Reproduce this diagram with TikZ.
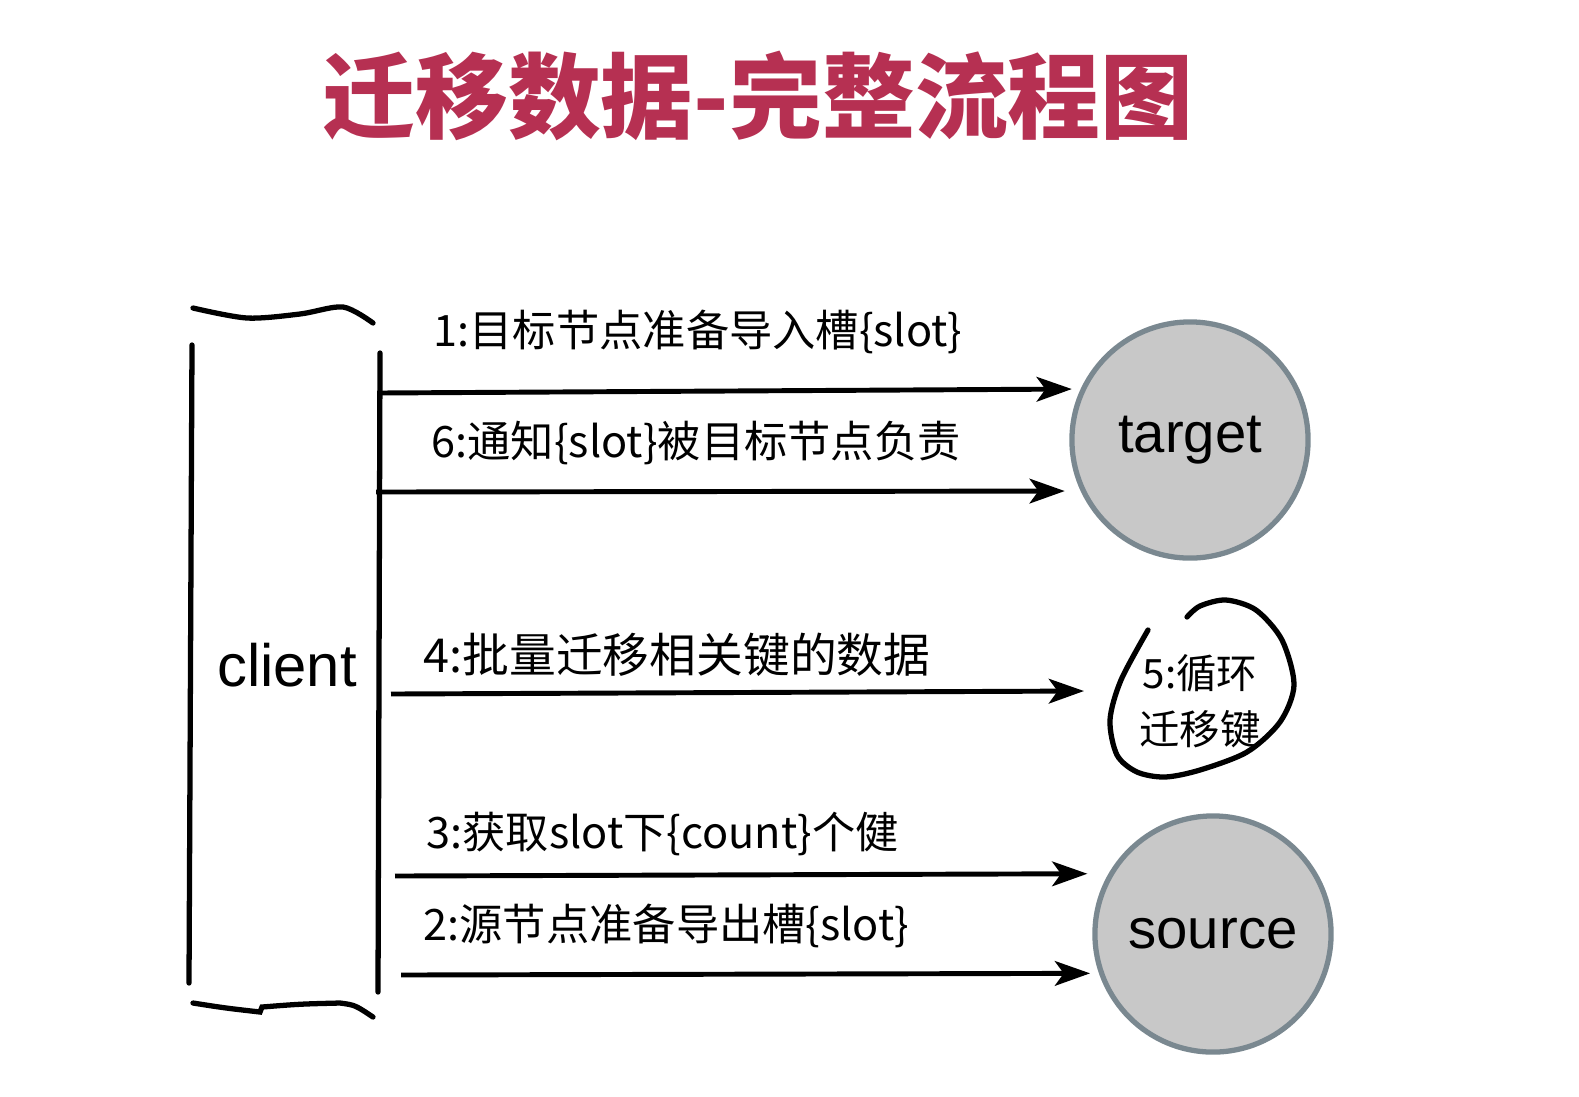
\documentclass[tikz,border=0pt]{standalone}
\usepackage{fontspec}
\setmainfont{Liberation Sans}
\newfontfamily\cjk{Noto Sans CJK SC}
\usepackage{xcolor}
\usetikzlibrary{calc, arrows.meta, positioning}
\definecolor{titlered}{RGB}{182,48,82}
\definecolor{servergray}{RGB}{200,200,200}
\definecolor{serverrim}{RGB}{122,136,144}

\begin{document}
\begin{tikzpicture}[x=0.01cm, y=-0.01cm, >={Stealth[length=10pt,width=7pt,inset=2.5pt]},
    server/.style={circle, draw=serverrim, fill=servergray, line width=1.5pt,
        minimum size=2.36cm, inner sep=0pt, font=\fontsize{16}{18}\selectfont},
    msg/.style={anchor=west, inner sep=0pt, font=\cjk\fontsize{12.3}{14}\selectfont},
    flow/.style={->, line width=1.4pt},
    pen/.style={line width=1.5pt, line cap=round}]
    \useasboundingbox (0,0) rectangle (1579,1096);

    % tiêu đề
    \node[font=\cjk\bfseries\fontsize{26.4}{30}\selectfont, text=titlered] (title) at (758,96) {迁移数据-完整流程图};

    % client
    \draw[pen] (192,345) -- (189,983);
    \draw[pen] (380,353) -- (378,992);
    \draw[pen] plot[smooth] coordinates {(193,308) (247,318) (300,314) (343,307) (373,323)};
    \draw[pen] (193,1003) .. controls (225,1008) .. (260,1012) -- (262,1007)
        .. controls (300,1004) .. (340,1003) .. controls (355,1005) .. (373,1017);
    \node[font=\fontsize{17}{20}\selectfont] (client) at (287,665) {client};

    % target, source
    \node[server] (target) at (1190,440) {target};
    \node[server] (source) at (1213,934) {source};

    \coordinate (c1) at (378,393);
    \coordinate (c6) at (376,492);
    \coordinate (c4) at (391,694);
    \coordinate (c3) at (395,876);
    \coordinate (c2) at (401,975);
    \coordinate (e4) at (1084,691);

    \draw[flow, shorten >=2.5pt] (c1) -- (target.155);
    \draw[flow, shorten >=4.5pt] (c6) -- (target.205);
    \draw[flow] (c4) -- (e4);
    \draw[flow, shorten >=6pt] (c3) -- (source.150);
    \draw[flow, shorten >=2.5pt] (c2) -- (source.199);

    \node[msg] (m1) at (433,332) {1:目标节点准备导入槽\{slot\}};
    \node[msg] (m6) at (431,443) {6:通知\{slot\}被目标节点负责};
    \node[msg, font=\cjk\fontsize{13.3}{15}\selectfont] (m4) at (423,655) {4:批量迁移相关键的数据};
    \node[msg] (m3) at (426,834) {3:获取slot下\{count\}个健};
    \node[msg] (m2) at (423,926) {2:源节点准备导出槽\{slot\}};

    % 5: vòng lặp
    \node[msg, anchor=center, align=center, font=\cjk\fontsize{11.5}{15.8}\selectfont] (loop) at (1200,701) {5:循环\\迁移键};
    \draw[pen] plot[smooth] coordinates {(1148,630) (1121,680) (1110,720) (1117,755) (1137,772)
        (1165,777) (1200,770) (1247,752) (1280,722) (1294,685) (1282,640) (1256,610) (1226,600) (1200,606) (1187,617)};
\end{tikzpicture}
\end{document}
